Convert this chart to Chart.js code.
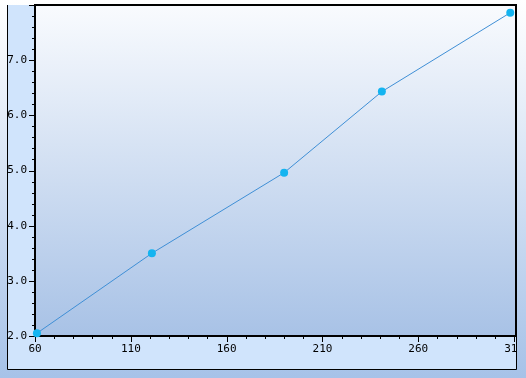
<!DOCTYPE html>
<html>
<head>
<meta charset="utf-8">
<script src="https://cdn.jsdelivr.net/npm/chart.js@4/dist/chart.umd.min.js"></script>
<style>
  html, body { margin: 0; padding: 0; background: #fff; }
</style>
</head>
<body>
<canvas id="myChart" width="526" height="378"></canvas>
<script>
// data
var xValues = [61, 121, 190, 241, 308];
var yValues = [2.05, 3.5, 4.96, 6.43, 7.86];
var xTicks = [60, 110, 160, 210, 260, 310];
var yTicks = [2.0, 3.0, 4.0, 5.0, 6.0, 7.0];

var FRAME_LEFT = 7, FRAME_RIGHT = 516, FRAME_BOTTOM = 369;

function outerFill(ctx, h) {
  var g = ctx.createLinearGradient(0, 0, 0, h);
  g.addColorStop(0, '#ffffff');
  g.addColorStop(1, '#a6c2e8');
  return g;
}

// backgrounds, panels and frame
var panelPlugin = {
  id: 'panels',
  beforeDraw: function (chart) {
    var ctx = chart.ctx, a = chart.chartArea;
    ctx.save();
    ctx.fillStyle = outerFill(ctx, chart.height);
    ctx.fillRect(0, 0, chart.width, chart.height);
    // left and bottom panels
    ctx.fillStyle = '#d0e4fc';
    ctx.fillRect(FRAME_LEFT, a.top, a.left - FRAME_LEFT, FRAME_BOTTOM - a.top);
    ctx.fillRect(FRAME_LEFT, a.bottom, FRAME_RIGHT - FRAME_LEFT, FRAME_BOTTOM - a.bottom);
    // plot area
    var g = ctx.createLinearGradient(0, a.top, 0, a.bottom);
    g.addColorStop(0, '#f9fbfe');
    g.addColorStop(1, '#a8c2e6');
    ctx.fillStyle = g;
    ctx.fillRect(a.left, a.top, a.right - a.left, a.bottom - a.top);
    ctx.restore();
  },
  beforeDatasetsDraw: function (chart) {
    var ctx = chart.ctx, a = chart.chartArea;
    var xs = chart.scales.x, ys = chart.scales.y;
    ctx.save();
    // cut off the last x label at the frame, as in the original
    ctx.fillStyle = outerFill(ctx, chart.height);
    ctx.fillRect(FRAME_RIGHT, a.bottom, chart.width - FRAME_RIGHT, FRAME_BOTTOM - a.bottom + 1);

    ctx.strokeStyle = '#000';
    ctx.lineWidth = 1;
    ctx.beginPath();
    // outer frame
    ctx.moveTo(FRAME_LEFT + 0.5, a.top);
    ctx.lineTo(FRAME_LEFT + 0.5, FRAME_BOTTOM + 0.5);
    ctx.lineTo(FRAME_RIGHT + 0.5, FRAME_BOTTOM + 0.5);
    ctx.lineTo(FRAME_RIGHT + 0.5, a.top);
    ctx.stroke();

    // tick marks
    ctx.beginPath();
    for (var v = 60; v <= 311; v += 10) {
      var px = Math.round(xs.getPixelForValue(v)) + 0.5;
      var len = (v - 60) % 50 === 0 ? 6 : 3;
      ctx.moveTo(px, a.bottom);
      ctx.lineTo(px, a.bottom + len);
    }
    for (var i = 0; i <= 30; i++) {
      var yv = 2 + i * 0.2;
      var py = Math.round(ys.getPixelForValue(yv)) + 0.5;
      var l = i % 5 === 0 ? 6 : 3;
      ctx.moveTo(a.left, py);
      ctx.lineTo(a.left - l, py);
    }
    ctx.stroke();

    // plot border and axes
    ctx.lineWidth = 2;
    ctx.strokeRect(a.left, a.top, a.right - a.left, a.bottom - a.top);
    ctx.restore();
  }
};

var ctx = document.getElementById('myChart').getContext('2d');
var chart = new Chart(ctx, {
  type: 'scatter',
  data: {
    datasets: [{
      data: xValues.map(function (x, i) { return { x: x, y: yValues[i] }; }),
      showLine: true,
      borderColor: '#3f8fd6',
      borderWidth: 1,
      pointRadius: 4,
      pointBackgroundColor: '#14b4f0',
      pointBorderColor: '#14b4f0',
      pointBorderWidth: 0,
      clip: false
    }]
  },
  options: {
    responsive: false,
    animation: false,
    devicePixelRatio: 1,
    layout: { padding: { left: 7, top: 5, right: 10, bottom: 9 } },
    plugins: { legend: { display: false }, tooltip: { enabled: false } },
    scales: {
      x: {
        type: 'linear',
        min: 60,
        max: 311,
        afterBuildTicks: function (s) { s.ticks = xTicks.map(function (v) { return { value: v }; }); },
        afterFit: function (s) { s.height = 33; s.paddingLeft = 0; s.paddingRight = 0; },
        grid: { display: false, drawTicks: false },
        border: { display: false },
        ticks: {
          font: { family: 'DejaVu Sans Mono', size: 11 },
          color: '#000',
          padding: 7,
          maxRotation: 0,
          autoSkip: false
        }
      },
      y: {
        min: 2,
        max: 8,
        afterBuildTicks: function (s) { s.ticks = yTicks.map(function (v) { return { value: v }; }); },
        afterFit: function (s) { s.width = 28; s.paddingTop = 0; s.paddingBottom = 0; },
        grid: { display: false, drawTicks: false },
        border: { display: false },
        ticks: {
          font: { family: 'DejaVu Sans Mono', size: 11 },
          color: '#000',
          padding: 8,
          callback: function (v) { return v.toFixed(1); }
        }
      }
    }
  },
  plugins: [panelPlugin]
});
</script>
</body>
</html>
